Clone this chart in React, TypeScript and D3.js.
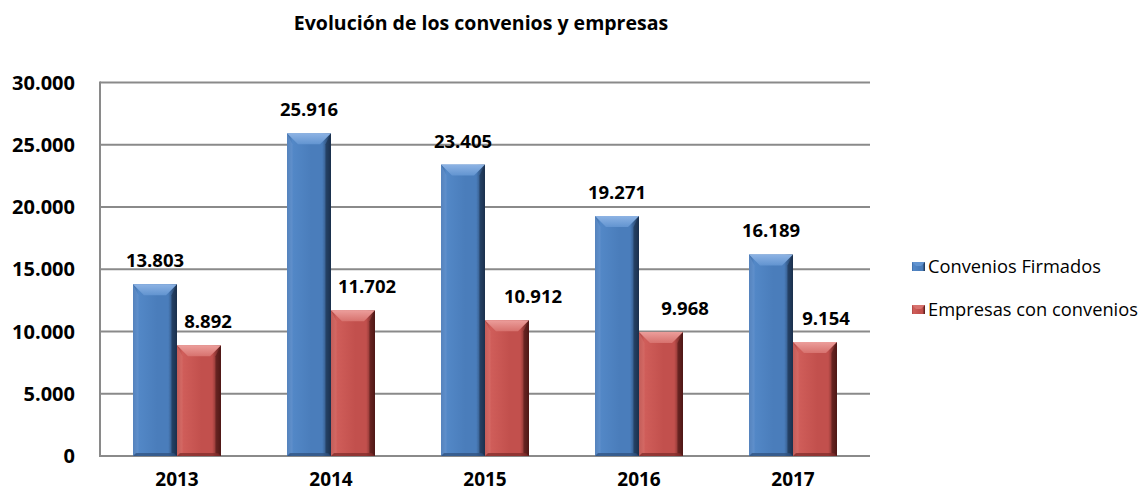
import React from "react";
import * as d3 from "d3";

const years = ["2013", "2014", "2015", "2016", "2017"];
const convenios = [13803, 25916, 23405, 19271, 16189];
const empresas = [8892, 11702, 10912, 9968, 9154];
const yTicks = [0, 5000, 10000, 15000, 20000, 25000, 30000];
const seriesNames = ["Convenios Firmados", "Empresas con convenios"];
// manual horizontal shift of the red value labels, as placed in the original
const empresasLabelShift = [9, 14, 26, 24, 11];

const W = 1143;
const H = 493;
const FONT = "'Open Sans', 'DejaVu Sans', sans-serif";

const fmt = (v: number) => d3.format(",")(v).replace(/,/g, ".");

const palettes = [
  { id: "blue", edgeL: "#3d6aa3", mid: "#5388c7", mid2: "#4a7dbb", edgeR: "#1b304c", top1: "#8db3e4", top2: "#6294d0", side: "#6a98d2", bottom: "#2d4f7a" },
  { id: "red", edgeL: "#a94442", mid: "#d05e5a", mid2: "#c2504d", edgeR: "#4e1816", top1: "#ec9e9b", top2: "#d7726e", side: "#d9726e", bottom: "#7c2a28" },
];

export default function App() {
  const x0 = d3.scaleBand<string>().domain(years).range([100, 870]).paddingInner(0).paddingOuter(0);
  const y = d3.scaleLinear().domain([0, 30000]).range([456, 82.5]);
  const groupW = 88;
  const x1 = d3.scaleBand<number>().domain([0, 1]).range([0, groupW]).padding(0);
  const series = [convenios, empresas];
  const b = 11;

  const bar = (si: number, i: number) => {
    const v = series[si][i];
    const xs = (x0(years[i]) as number) + (x0.bandwidth() - groupW) / 2 + (x1(si) as number);
    const w = x1.bandwidth();
    const yt = y(v);
    const yb = y(0);
    const p = palettes[si];
    const bb = Math.min(b, (yb - yt) / 2);
    return (
      <g key={`b${si}-${i}`}>
        <rect x={xs} y={yt} width={w} height={yb - yt} fill={`url(#g-${p.id})`} />
        <polygon
          points={`${xs},${yt} ${xs + bb * 0.5},${yt + bb} ${xs + bb * 0.5},${yb - 3} ${xs},${yb}`}
          fill={p.side}
          opacity={0.55}
        />
        <polygon
          points={`${xs + w},${yt} ${xs + w - bb * 0.5},${yt + bb} ${xs + w - bb * 0.5},${yb - 3} ${xs + w},${yb}`}
          fill={p.edgeR}
          opacity={0.6}
        />
        <polygon
          points={`${xs},${yt} ${xs + w},${yt} ${xs + w - bb},${yt + bb} ${xs + bb},${yt + bb}`}
          fill={`url(#t-${p.id})`}
        />
        <polygon
          points={`${xs},${yb} ${xs + w},${yb} ${xs + w - 3},${yb - 3} ${xs + 3},${yb - 3}`}
          fill={p.bottom}
          opacity={0.7}
        />
      </g>
    );
  };

  const label = (si: number, i: number) => {
    const v = series[si][i];
    const xs = (x0(years[i]) as number) + (x0.bandwidth() - groupW) / 2 + (x1(si) as number);
    const cx = xs + x1.bandwidth() / 2 + (si === 1 ? empresasLabelShift[i] : 0);
    return (
      <text
        key={`l${si}-${i}`}
        x={cx}
        y={y(v) - 17}
        textAnchor="middle"
        fontFamily={FONT}
        fontWeight="bold"
        fontSize={18.5}
        fill="#000"
      >
        {fmt(v)}
      </text>
    );
  };

  return (
    <svg
      width={W}
      height={H}
      viewBox={`0 0 ${W} ${H}`}
      style={{ position: "absolute", left: 0, top: 0, background: "#fff" }}
    >
      <defs>
        {palettes.map((p) => (
          <React.Fragment key={p.id}>
            <linearGradient id={`g-${p.id}`} x1="0" x2="1" y1="0" y2="0">
              <stop offset="0%" stopColor={p.edgeL} />
              <stop offset="12%" stopColor={p.mid} />
              <stop offset="55%" stopColor={p.mid2} />
              <stop offset="80%" stopColor={p.mid2} />
              <stop offset="100%" stopColor={p.edgeR} />
            </linearGradient>
            <linearGradient id={`t-${p.id}`} x1="0" x2="0" y1="0" y2="1">
              <stop offset="0%" stopColor={p.top1} />
              <stop offset="100%" stopColor={p.top2} />
            </linearGradient>
          </React.Fragment>
        ))}
      </defs>
      <rect x={0} y={0} width={W} height={H} fill="#fff" />

      <text
        x={481}
        y={30}
        textAnchor="middle"
        fontFamily={FONT}
        fontWeight="bold"
        fontSize={19.5}
        fill="#000"
      >
        Evolución de los convenios y empresas
      </text>

      {yTicks.map((t) => (
        <g key={`t${t}`}>
          <line x1={100} x2={870} y1={y(t)} y2={y(t)} stroke="#8a8a8a" strokeWidth={2} />
          <text
            x={75}
            y={y(t)}
            dy="0.36em"
            textAnchor="end"
            fontFamily={FONT}
            fontWeight="bold"
            fontSize={20}
            fill="#000"
          >
            {fmt(t)}
          </text>
        </g>
      ))}
      <line x1={100} x2={100} y1={y(30000) - 1} y2={y(0) + 1} stroke="#8a8a8a" strokeWidth={2} />

      {years.map((yr, i) => (
        <g key={yr}>
          {bar(0, i)}
          {bar(1, i)}
        </g>
      ))}
      {years.map((yr, i) => (
        <g key={`lab${yr}`}>
          {label(0, i)}
          {label(1, i)}
        </g>
      ))}

      {years.map((yr) => (
        <text
          key={`x${yr}`}
          x={(x0(yr) as number) + x0.bandwidth() / 2}
          y={486}
          textAnchor="middle"
          fontFamily={FONT}
          fontWeight="bold"
          fontSize={19}
          fill="#000"
        >
          {yr}
        </text>
      ))}

      {seriesNames.map((n, si) => {
        const ly = 266 + si * 43;
        const p = palettes[si];
        return (
          <g key={n}>
            <rect x={912} y={ly - 4} width={13} height={9} fill={`url(#g-${p.id})`} />
            <polygon
              points={`912,${ly - 4} 925,${ly - 4} 921,${ly} 916,${ly}`}
              fill={p.top2}
            />
            <text
              x={928}
              y={ly}
              dy="0.36em"
              fontFamily={FONT}
              fontSize={18.3}
              fill="#000"
            >
              {n}
            </text>
          </g>
        );
      })}
    </svg>
  );
}
